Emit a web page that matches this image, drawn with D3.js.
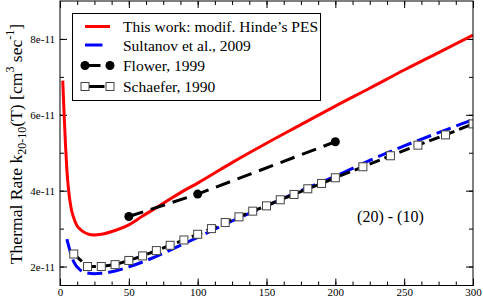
<!DOCTYPE html>
<html>
<head>
<meta charset="utf-8">
<script src="https://cdn.jsdelivr.net/npm/d3@7"></script>
<style>
  body { margin: 0; background: #fff; }
  svg text { font-family: "Liberation Serif", "Times New Roman", "DejaVu Serif", serif; }
</style>
</head>
<body>
<script>
// Chart size
var svgWidth = 483;
var svgHeight = 299;

var margin = { top: 1, right: 10, bottom: 13.5, left: 60 };
var chartWidth = svgWidth - margin.left - margin.right;
var chartHeight = svgHeight - margin.top - margin.bottom;
var serif = "'Liberation Serif', 'Times New Roman', 'DejaVu Serif', serif";

// Data (rates in units of 1e-11 cm^3 sec^-1)
var hindeT =     [2, 3, 4, 5, 6, 8, 10, 12, 15, 20, 25, 30, 40, 50, 60, 70, 80, 90, 100, 125, 150, 175, 200, 225, 250, 275, 300];
var hindeRate =  [6.9, 6.0, 5.2, 4.55, 4.1, 3.55, 3.28, 3.1, 2.97, 2.86, 2.83, 2.85, 2.95, 3.1, 3.33, 3.55, 3.78, 4.0, 4.2, 4.74, 5.25, 5.74, 6.23, 6.7, 7.18, 7.64, 8.1];

var sultanovT =    [5, 10, 15, 20, 25, 30, 40, 50, 60, 70, 80, 90, 100, 125, 150, 175, 200, 225, 250, 275, 300];
var sultanovRate = [2.72, 2.12, 1.9, 1.83, 1.81, 1.82, 1.88, 1.99, 2.12, 2.27, 2.43, 2.6, 2.77, 3.2, 3.6, 4.0, 4.38, 4.8, 5.18, 5.53, 5.87];

var flowerT =    [50, 100, 200];
var flowerRate = [3.32, 3.91, 5.29];

var schaeferT =    [10, 20, 30, 40, 50, 60, 70, 80, 90, 100, 110, 120, 130, 140, 150, 160, 170, 180, 190, 200, 220, 240, 260, 280, 300];
var schaeferRate = [2.33, 2.0, 2.0, 2.05, 2.16, 2.28, 2.42, 2.56, 2.7, 2.85, 3.0, 3.16, 3.31, 3.46, 3.6, 3.76, 3.9, 4.05, 4.19, 4.34, 4.63, 4.92, 5.2, 5.47, 5.76];

var xTicks = [0, 50, 100, 150, 200, 250, 300];
var yTicks = [2, 4, 6, 8];
var legendLabels = ["This work: modif. Hinde\u2019s PES", "Sultanov et al., 2009", "Flower, 1999", "Schaefer, 1990"];

var svg = d3.select("body")
  .append("svg")
  .attr("width", svgWidth)
  .attr("height", svgHeight);

var chartGroup = svg.append("g")
  .attr("transform", `translate(${margin.left}, ${margin.top})`);

var xScale = d3.scaleLinear().domain([0, 300]).range([0, chartWidth]);
var yScale = d3.scaleLinear().domain([1.5, 9]).range([chartHeight, 0]);

// Minor ticks
var xMinor = d3.range(0, 300.1, 12.5);
var yMinor = d3.range(2, 9, 1);

function styleAxis(g) {
  g.attr("font-family", serif);
  g.select(".domain").remove();
  g.selectAll("line").attr("stroke", "#000");
  g.selectAll("text").attr("fill", "#000");
}

// bottom + top axes (ticks point inward)
chartGroup.append("g")
  .attr("transform", `translate(0, ${chartHeight})`)
  .call(d3.axisBottom(xScale).tickValues(xMinor).tickSize(-4).tickFormat(""))
  .call(styleAxis);
chartGroup.append("g")
  .attr("transform", `translate(0, ${chartHeight})`)
  .call(d3.axisBottom(xScale).tickValues(xTicks).tickSize(-7).tickPadding(3).tickFormat(d3.format("d")))
  .call(styleAxis)
  .attr("font-size", "11px");
chartGroup.append("g")
  .call(d3.axisTop(xScale).tickValues(xMinor).tickSize(-4).tickFormat(""))
  .call(styleAxis);
chartGroup.append("g")
  .call(d3.axisTop(xScale).tickValues(xTicks).tickSize(-7).tickFormat(""))
  .call(styleAxis);

// left + right axes
chartGroup.append("g")
  .call(d3.axisLeft(yScale).tickValues(yMinor).tickSize(-4).tickFormat(""))
  .call(styleAxis);
chartGroup.append("g")
  .call(d3.axisLeft(yScale).tickValues(yTicks).tickSize(-7).tickPadding(5).tickFormat(d => d + "e-11"))
  .call(styleAxis)
  .attr("font-size", "11px");
chartGroup.append("g")
  .attr("transform", `translate(${chartWidth}, 0)`)
  .call(d3.axisRight(yScale).tickValues(yMinor).tickSize(-4).tickFormat(""))
  .call(styleAxis);
chartGroup.append("g")
  .attr("transform", `translate(${chartWidth}, 0)`)
  .call(d3.axisRight(yScale).tickValues(yTicks).tickSize(-7).tickFormat(""))
  .call(styleAxis);

// Lines
chartGroup.append("clipPath").attr("id", "plotClip")
  .append("rect").attr("width", chartWidth).attr("height", chartHeight);

function seriesLine(ts, vals, curve) {
  return d3.line()
    .x((d, i) => xScale(ts[i]))
    .y((d, i) => yScale(vals[i]))
    .curve(curve)(vals);
}

var plot = chartGroup.append("g").attr("clip-path", "url(#plotClip)");

plot.append("path")
  .attr("d", seriesLine(hindeT, hindeRate, d3.curveMonotoneX))
  .attr("fill", "none").attr("stroke", "#ff0000").attr("stroke-width", 3);

plot.append("path")
  .attr("d", seriesLine(sultanovT, sultanovRate, d3.curveMonotoneX))
  .attr("fill", "none").attr("stroke", "#0000ff").attr("stroke-width", 3)
  .attr("stroke-dasharray", "15,6");

plot.append("path")
  .attr("d", seriesLine(flowerT, flowerRate, d3.curveLinear))
  .attr("fill", "none").attr("stroke", "#000").attr("stroke-width", 3)
  .attr("stroke-dasharray", "15,8");
plot.selectAll(".flower")
  .data(flowerRate)
  .enter().append("circle")
  .attr("cx", (d, i) => xScale(flowerT[i]))
  .attr("cy", d => yScale(d))
  .attr("r", 4.5)
  .attr("fill", "#000");

plot.append("path")
  .attr("d", seriesLine(schaeferT, schaeferRate, d3.curveLinear))
  .attr("fill", "none").attr("stroke", "#000").attr("stroke-width", 3)
  .attr("stroke-dasharray", "11,5");
plot.selectAll(".schaefer")
  .data(schaeferRate)
  .enter().append("rect")
  .attr("x", (d, i) => xScale(schaeferT[i]) - 4)
  .attr("y", d => yScale(d) - 4)
  .attr("width", 8).attr("height", 8)
  .attr("fill", "#fff").attr("stroke", "#444").attr("stroke-width", 1);

// Frame
chartGroup.append("rect")
  .attr("width", chartWidth).attr("height", chartHeight)
  .attr("fill", "none").attr("stroke", "#000").attr("stroke-width", 1);

// Legend
var legend = svg.append("g").attr("transform", "translate(72.5, 13.5)");
legend.append("rect")
  .attr("width", 248).attr("height", 87)
  .attr("fill", "#fff").attr("stroke", "#000").attr("stroke-width", 1);

var rowY = [13, 31.5, 52, 73];
legendLabels.forEach(function(label, i) {
  var row = legend.append("g").attr("transform", `translate(0, ${rowY[i]})`);
  var line = row.append("line").attr("x1", 12.5).attr("x2", 37.5)
    .attr("stroke-width", 3);
  if (i === 0) line.attr("stroke", "#ff0000");
  if (i === 1) line.attr("stroke", "#0000ff").attr("x2", 30);
  if (i === 2) {
    line.attr("stroke", "#000").attr("x2", 28);
    [12.5, 37.5].forEach(cx => row.append("circle").attr("cx", cx).attr("r", 4.5).attr("fill", "#000"));
  }
  if (i === 3) {
    line.attr("stroke", "#000").attr("x2", 32);
    [12.5, 37.5].forEach(cx => row.append("rect").attr("x", cx - 4).attr("y", -4)
      .attr("width", 8).attr("height", 8).attr("fill", "#fff").attr("stroke", "#444"));
  }
  row.append("text").attr("x", 50.5).attr("y", 5.5)
    .attr("font-family", serif)
    .attr("font-size", "15.5px").attr("fill", "#000").text(label);
});

// Annotation
chartGroup.append("text")
  .attr("x", xScale(240)).attr("y", yScale(3.18))
  .attr("text-anchor", "middle").attr("font-size", "16px")
  .attr("font-family", serif)
  .text("(20) - (10)");

// Y axis title
var title = svg.append("text")
  .attr("transform", `translate(22, ${144}) rotate(-90)`)
  .attr("text-anchor", "middle")
  .attr("font-family", serif)
  .attr("font-size", "17.6px")
  .attr("fill", "#000");
title.append("tspan").text("Thermal Rate k");
title.append("tspan").attr("font-size", "12px").attr("dy", 4).text("20-10");
title.append("tspan").attr("dy", -4).text("(T) [cm");
title.append("tspan").attr("font-size", "12px").attr("dy", -8).text("3");
title.append("tspan").attr("dy", 8).text(" sec");
title.append("tspan").attr("font-size", "12px").attr("dy", -8).text("-1");
title.append("tspan").attr("dy", 8).text("]");
</script>
</body>
</html>
